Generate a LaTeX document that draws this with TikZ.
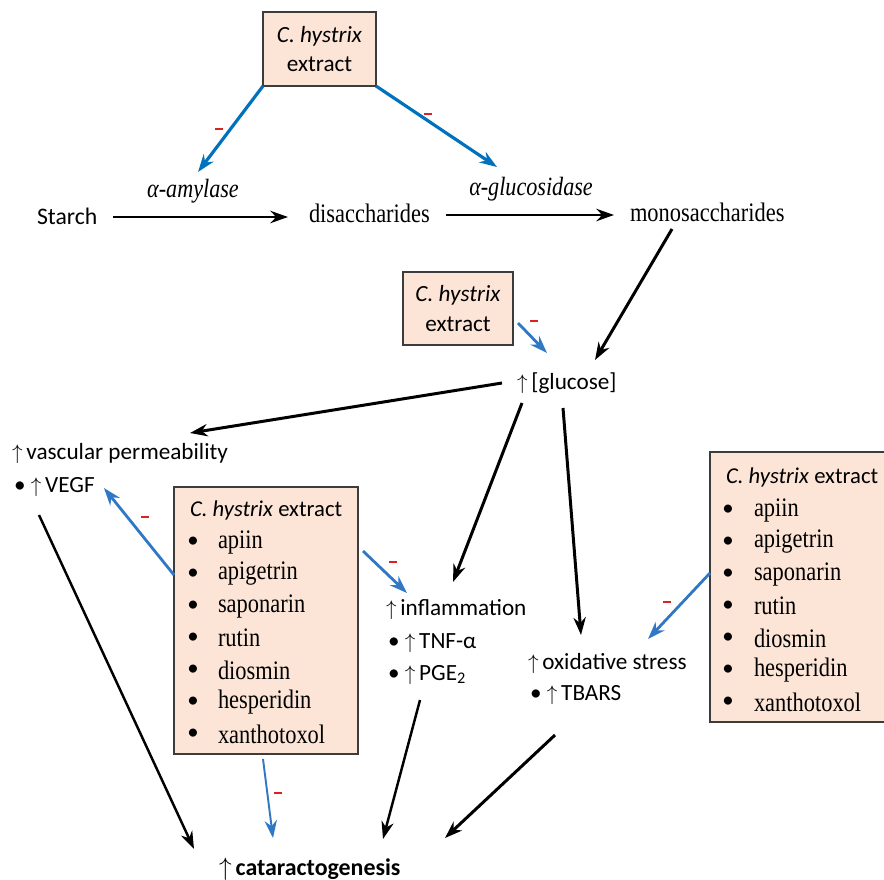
\documentclass[tikz,border=0pt]{standalone}
\usepackage{fontspec}
\setmainfont{Carlito}
\newfontfamily\serifn[FakeStretch=0.84]{Liberation Serif}
\usetikzlibrary{arrows.meta}
\definecolor{boxfill}{RGB}{252,228,214}
\definecolor{boxline}{RGB}{60,60,60}
\definecolor{inhibA}{RGB}{0,114,189}
\definecolor{inhibB}{RGB}{48,120,198}
\definecolor{minusred}{RGB}{215,35,35}
\begin{document}
\begin{tikzpicture}[x=0.02cm,y=-0.02cm,
  every node/.style={inner sep=0pt, outer sep=0pt},
  sans/.style={font=\fontsize{13.2}{19}\selectfont},
  boxt/.style={font=\fontsize{13.2}{17}\selectfont},
  listt/.style={font=\fontsize{12.9}{17}\selectfont},
  sansb/.style={font=\fontsize{13.6}{15}\selectfont\bfseries},
  ser/.style={font=\serifn\fontsize{15.2}{17}\selectfont},
  serb/.style={font=\serifn\fontsize{15.2}{17}\selectfont},
  seri/.style={font=\serifn\itshape\fontsize{15}{17}\selectfont},
  exbox/.style={draw=boxline, line width=0.7pt, fill=boxfill},
  blk/.style={-{Stealth[length=10pt,width=7pt]}, line width=1.7pt, black},
  inh/.style={-{Stealth[length=10pt,width=7pt]}, line width=1.6pt, inhibB},
  inhA/.style={-{Stealth[length=10pt,width=7pt]}, line width=1.8pt, inhibA},
  mn/.style={minusred, line width=1.4pt},
  bul/.style={font=\fontsize{13}{14}\selectfont},
]
\useasboundingbox (0,0) rectangle (884,879);
\fill[white] (0,0) rectangle (884,879);

% ---------- top box ----------
\node[exbox, minimum width=2.26cm, minimum height=1.48cm, align=center, boxt] (box1) at (319.5,49) {\textit{C. hystrix}\\extract};

% ---------- sugar chain ----------
\node[font=\fontsize{13.5}{15}\selectfont, anchor=west] (starch) at (37,216) {Starch};
\node[serb, anchor=west] (disac) at (309,213) {disaccharides};
\node[serb, anchor=west] (monos) at (630,212) {monosaccharides};
\node[seri, anchor=center] (amyl) at (193,191) {α-amylase};
\node[seri, anchor=center] (gluc) at (531,189) {α-glucosidase};

\coordinate (s1) at (113,217);
\coordinate (s2) at (288,217);
\coordinate (d1) at (446,215);
\coordinate (d2) at (614,215);
\draw[blk] (s1) -- (s2);
\draw[blk] (d1) -- (d2);

\coordinate (a1) at (198,172);
\coordinate (g1) at (497,167);
\draw[inhA] (box1.south west) -- (a1);
\draw[inhA] (box1.south east) -- (g1);
\draw[mn] (215,129) -- (223,129);
\draw[mn] (424,114) -- (432,114);

% ---------- glucose ----------
\node[exbox, minimum width=2.2cm, minimum height=1.46cm, align=center, boxt] (box2) at (458,308.5) {\textit{C. hystrix}\\extract};
\node[sans, anchor=west] (glu) at (517,383) {$\uparrow$\,[glucose]};
\coordinate (m1) at (672,229);
\coordinate (m2) at (595,360);
\draw[blk] (m1) -- (m2);
\coordinate (b2a) at (518,323);
\coordinate (b2b) at (547,353);
\draw[inh] (b2a) -- (b2b);
\draw[mn] (530,321) -- (538,321);

% ---------- vascular permeability ----------
\node[sans, anchor=west] (vasc) at (12,453) {$\uparrow$\,vascular permeability};
\node[sans, anchor=west] (vegf) at (14,487) {\textbullet\ $\uparrow$\,VEGF};
\coordinate (gv1) at (502,383);
\coordinate (gv2) at (190,433);
\draw[blk] (gv1) -- (gv2);

% ---------- middle box ----------
\node[exbox, anchor=north west, minimum width=3.68cm, minimum height=5.34cm] (box3) at (174,487) {};
\node[listt, anchor=west] (t3) at (190,510) {\textit{C. hystrix} extract};
\foreach \i/\t in {0/apiin,1/apigetrin,2/saponarin,3/rutin,4/diosmin,5/hesperidin,6/xanthotoxol}{
  \node[bul] (mb\i) at (193,542+32*\i) {\textbullet};
  \node[ser, anchor=west] (mt\i) at (218,542+32*\i) {\t};
}

% ---------- right box ----------
\node[exbox, anchor=north west, minimum width=3.5cm, minimum height=5.4cm] (box4) at (710,452) {};
\node[listt, anchor=west] (t4) at (726,477) {\textit{C. hystrix} extract};
\foreach \i/\t in {0/apiin,1/apigetrin,2/saponarin,3/rutin,4/diosmin,5/hesperidin,6/xanthotoxol}{
  \node[bul] (rb\i) at (728,510+32*\i) {\textbullet};
  \node[ser, anchor=west] (rt\i) at (754,510+32*\i) {\t};
}

% ---------- inflammation ----------
\node[sans, anchor=west] (infl) at (386,610) {$\uparrow$\,inflammation};
\node[sans, anchor=west] (tnf) at (388,643) {\textbullet\ $\uparrow$\,TNF-α};
\node[sans, anchor=west] (pge) at (388,675) {\textbullet\ $\uparrow$\,PGE\textsubscript{2}};

% ---------- oxidative stress ----------
\node[sans, anchor=west] (oxi) at (528,663) {$\uparrow$\,oxidative stress};
\node[sans, anchor=west] (tbars) at (530,695) {\textbullet\ $\uparrow$\,TBARS};

% ---------- cataractogenesis ----------
\node[sansb, anchor=west] (cat) at (219,869) {$\uparrow$\,cataractogenesis};

% glucose -> inflammation / oxidative
\coordinate (gi1) at (522,403);
\coordinate (gi2) at (453,582);
\draw[blk] (gi1) -- (gi2);
\coordinate (go1) at (563,408);
\coordinate (go2) at (581,635);
\draw[blk] (go1) -- (go2);

% inhibition arrows from boxes
\coordinate (v1) at (174,575);
\coordinate (v2) at (104,488);
\draw[inh] (v1) -- (v2);
\draw[mn] (141,517) -- (149,517);

\coordinate (i1) at (363,551);
\coordinate (i2) at (407,593);
\draw[inh] (i1) -- (i2);
\draw[mn] (389,562) -- (397,562);

\coordinate (o1) at (710,573);
\coordinate (o2) at (648,639);
\draw[inh] (o1) -- (o2);
\draw[mn] (663,602) -- (671,602);

\coordinate (c1) at (263,759);
\coordinate (c2) at (273,838);
\draw[inh, line width=1.1pt] (c1) -- (c2);
\draw[mn] (274,793) -- (282,793);

% to cataractogenesis
\coordinate (vc1) at (39,515);
\coordinate (vc2) at (194,849);
\draw[blk, line width=1.4pt] (vc1) -- (vc2);
\coordinate (ic1) at (420,700);
\coordinate (ic2) at (383,839);
\draw[blk, line width=1.4pt] (ic1) -- (ic2);
\coordinate (oc1) at (555,735);
\coordinate (oc2) at (445,838);
\draw[blk] (oc1) -- (oc2);
\end{tikzpicture}
\end{document}
